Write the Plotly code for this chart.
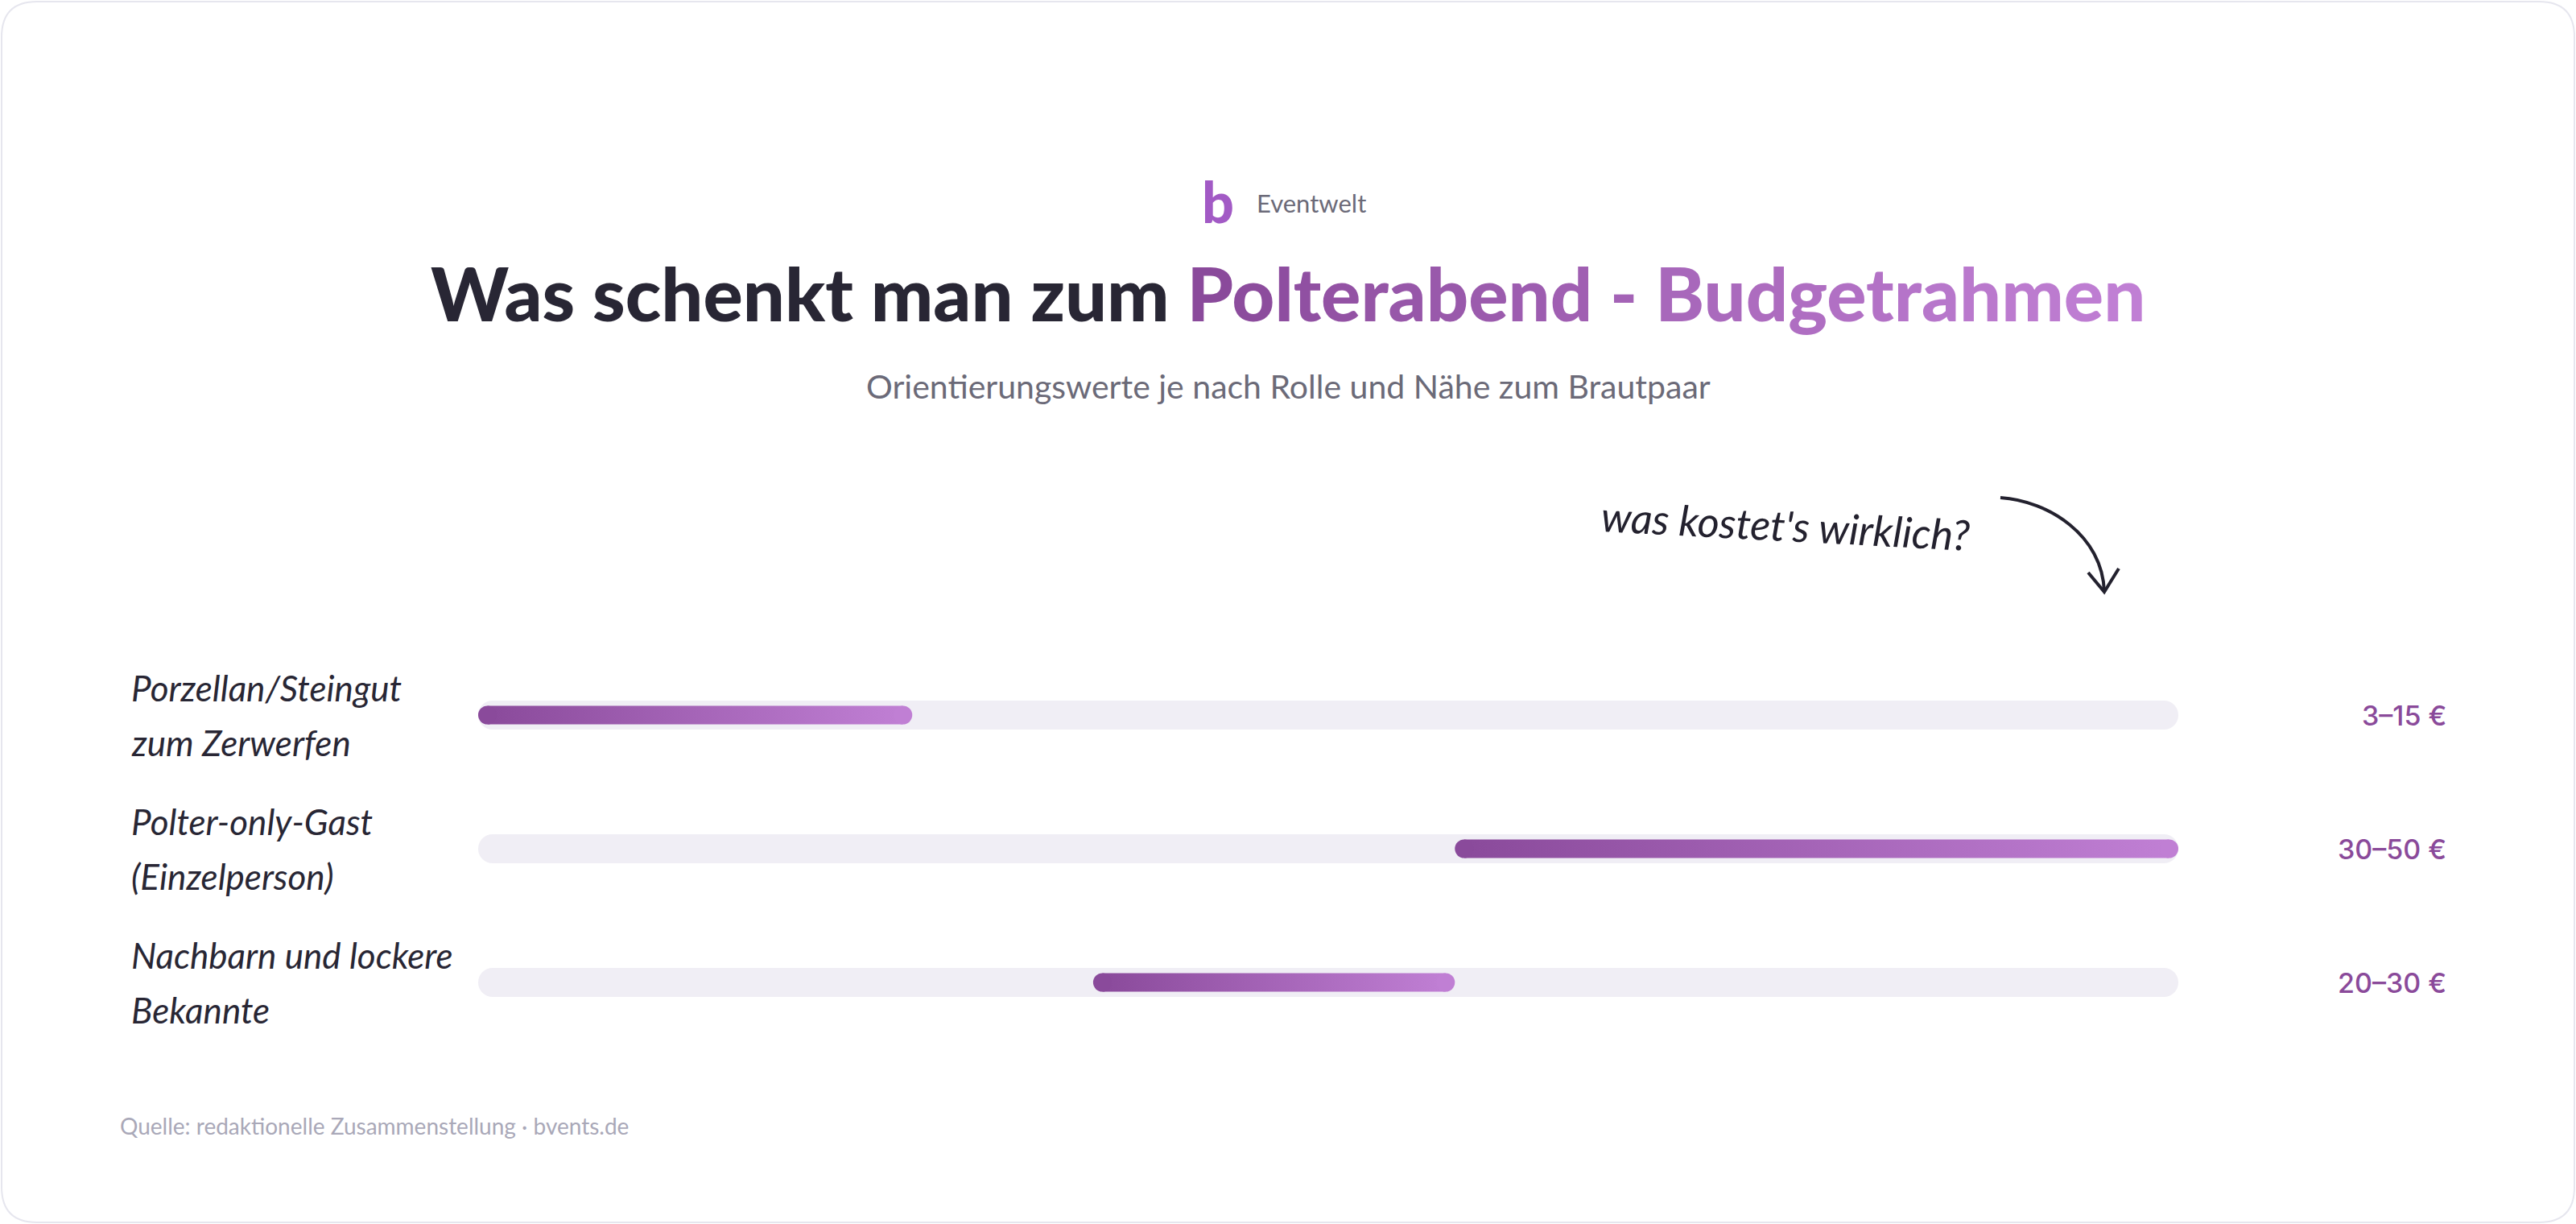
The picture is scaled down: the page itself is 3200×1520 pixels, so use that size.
import plotly.graph_objects as go

W, H = 3200, 1520

# data
categories = ["Porzellan/Steingut<br>zum Zerwerfen",
              "Polter-only-Gast<br>(Einzelperson)",
              "Nachbarn und lockere<br>Bekannte"]
low = [3, 30, 20]
high = [15, 50, 30]
x_min, x_max = min(low), max(high)

title_dark = "Was schenkt man zum "
title_purple = "Polterabend - Budgetrahmen"
subtitle = "Orientierungswerte je nach Rolle und Nähe zum Brautpaar"
brand = "Eventwelt"
note = "was kostet's wirklich?"
source = "Quelle: redaktionelle Zusammenstellung · bvents.de"

# styles / layout
DARK = "#282634"
GREY = "#6b6a78"
PURPLE_0 = "#8a4a9b"
PURPLE_1 = "#c07fd4"
TRACK = "#f0eef5"
HAND = "Lato, sans-serif"
SANS = "Lato, sans-serif"

X_LEFT, X_RIGHT = 594, 2706
ROW0, ROW_STEP = 888, 166
TRACK_W, BAR_W = 36, 23

px_per_unit = (X_RIGHT - X_LEFT) / (x_max - x_min)
y_top = -ROW0 / ROW_STEP
y_bottom = y_top + H / ROW_STEP


def px(x, y):
    return x / W, 1 - y / H


def P(x, y):
    a, b = px(x, y)
    return f"{a:.5f},{b:.5f}"


def mix(c0, c1, t):
    a = [int(c0[i:i + 2], 16) for i in (1, 3, 5)]
    b = [int(c1[i:i + 2], 16) for i in (1, 3, 5)]
    return "#" + "".join(f"{round(a[k] + (b[k] - a[k]) * t):02x}" for k in range(3))


fig = go.Figure()

# background tracks
dt = (TRACK_W / 2) / px_per_unit
for i in range(len(categories)):
    fig.add_trace(go.Scatter(
        x=[x_min + dt, x_max - dt], y=[i, i], mode="lines+markers",
        line=dict(color=TRACK, width=TRACK_W),
        marker=dict(color=TRACK, size=TRACK_W, line=dict(width=0)),
        hoverinfo="skip", showlegend=False))

# range bars with gradient and round caps
db = (BAR_W / 2) / px_per_unit
h = (BAR_W / 2) / ROW_STEP
for i, (lo, hi) in enumerate(zip(low, high)):
    a, b = lo + db, hi - db
    fig.add_trace(go.Scatter(
        x=[a, b, b, a, a], y=[i - h, i - h, i + h, i + h, i - h],
        mode="none", fill="toself",
        fillgradient=dict(type="horizontal",
                          colorscale=[[0, PURPLE_0], [1, PURPLE_1]]),
        hoverinfo="skip", showlegend=False))
    fig.add_trace(go.Scatter(
        x=[a, b], y=[i, i], mode="markers",
        marker=dict(color=[PURPLE_0, PURPLE_1], size=BAR_W, line=dict(width=0)),
        hovertemplate=f"{lo}–{hi} €<extra></extra>", showlegend=False))

annotations = []

# row labels (two handwritten lines each)
for i, cat in enumerate(categories):
    lines = cat.split("<br>")
    for k, line in enumerate(lines):
        annotations.append(dict(
            x=161 / W, xref="paper", y=i, yref="y", xanchor="left", yanchor="middle",
            yshift=34 - 68 * k, text=f"<i>{line}</i>", showarrow=False,
            font=dict(family=HAND, size=44, color=DARK)))

# value labels
for i, (lo, hi) in enumerate(zip(low, high)):
    annotations.append(dict(
        x=3041 / W, xref="paper", y=i, yref="y", xanchor="right", yanchor="middle",
        text=f"{lo}–{hi} €", showarrow=False,
        font=dict(family="Inter, sans-serif", size=34, color="#8a4a9a", weight=500)))

# title with gradient on the second part
n = len(title_purple)
purple_part = "".join(
    f'<span style="color:{mix(PURPLE_0, PURPLE_1, j / (n - 1))}">{ch}</span>'
    for j, ch in enumerate(title_purple))
tx, ty = px(1600, 364)
annotations.append(dict(
    x=tx, y=ty, xref="paper", yref="paper", xanchor="center", yanchor="middle",
    text=f'<span style="color:{DARK}">{title_dark}</span>' + purple_part,
    showarrow=False, font=dict(family=SANS, size=92, weight=900, color=DARK)))

sx, sy = px(1600, 479)
annotations.append(dict(
    x=sx, y=sy, xref="paper", yref="paper", xanchor="center", yanchor="middle",
    text=subtitle, showarrow=False, font=dict(family=SANS, size=41, color=GREY)))

# brand
bx, by = px(1513, 250)
annotations.append(dict(
    x=bx, y=by, xref="paper", yref="paper", xanchor="center", yanchor="middle",
    text="b", showarrow=False, font=dict(family=SANS, size=70, weight=900, color="#a25ac5")))
ex, ey = px(1559, 252)
annotations.append(dict(
    x=ex, y=ey, xref="paper", yref="paper", xanchor="left", yanchor="middle",
    text=brand, showarrow=False, font=dict(family=SANS, size=31, color=GREY)))

# handwritten note
nx, ny = px(2218, 652)
annotations.append(dict(
    x=nx, y=ny, xref="paper", yref="paper", xanchor="center", yanchor="middle",
    text=f"<i>{note}</i>", textangle=3, showarrow=False,
    font=dict(family=HAND, size=52, color="#23212e")))

# source
qx, qy = px(147, 1398)
annotations.append(dict(
    x=qx, y=qy, xref="paper", yref="paper", xanchor="left", yanchor="middle",
    text=source, showarrow=False, font=dict(family=SANS, size=28, color="#a9a8b8")))

# card outline and curved arrow
x0, y0, x1, y1, R = 2, 2, 3198, 1518, 44
card = (f"M {P(x0 + R, y0)} L {P(x1 - R, y0)} Q {P(x1, y0)} {P(x1, y0 + R)} "
        f"L {P(x1, y1 - R)} Q {P(x1, y1)} {P(x1 - R, y1)} L {P(x0 + R, y1)} "
        f"Q {P(x0, y1)} {P(x0, y1 - R)} L {P(x0, y0 + R)} Q {P(x0, y0)} {P(x0 + R, y0)} Z")
arrow = f"M {P(2485, 618)} C {P(2545, 622)} {P(2612, 665)} {P(2614, 735)}"
head = f"M {P(2594, 711)} L {P(2614, 735)} L {P(2632, 706)}"
shapes = [
    dict(type="path", path=card, xref="paper", yref="paper",
         line=dict(color="#e6e6ee", width=2), fillcolor="rgba(0,0,0,0)", layer="below"),
    dict(type="path", path=arrow, xref="paper", yref="paper",
         line=dict(color="#23212e", width=4)),
    dict(type="path", path=head, xref="paper", yref="paper",
         line=dict(color="#23212e", width=4)),
]

fig.update_layout(
    width=W, height=H, autosize=False,
    margin=dict(l=0, r=0, t=0, b=0),
    paper_bgcolor="white", plot_bgcolor="rgba(0,0,0,0)",
    xaxis=dict(domain=[X_LEFT / W, X_RIGHT / W], range=[x_min, x_max],
               visible=False, fixedrange=True),
    yaxis=dict(domain=[0, 1], range=[y_bottom, y_top], visible=False, fixedrange=True),
    annotations=annotations,
    shapes=shapes,
    showlegend=False,
)

fig.write_html("out.html", config=dict(displayModeBar=False),
               post_script="document.body.style.margin='0';")
